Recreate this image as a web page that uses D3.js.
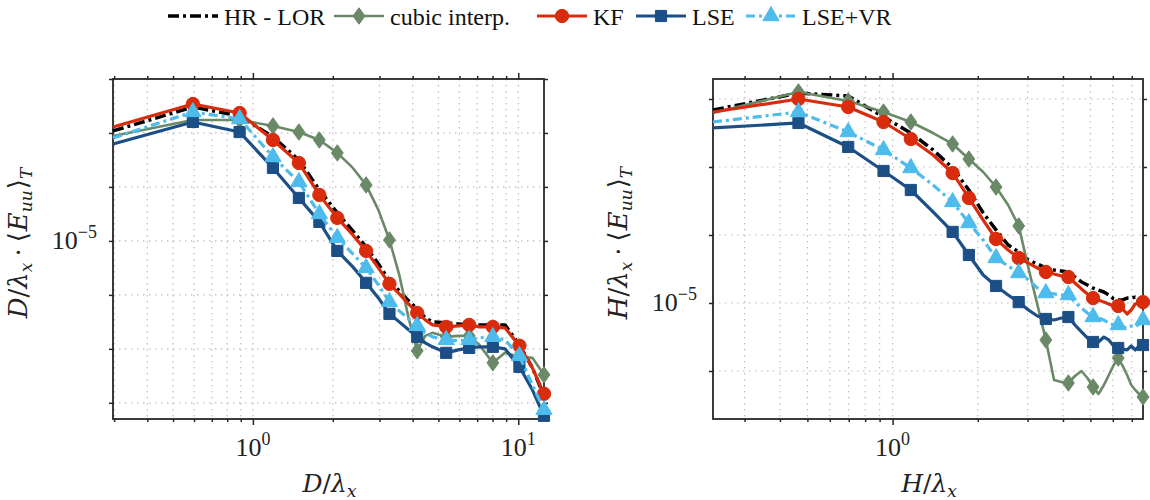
<!DOCTYPE html>
<html><head><meta charset="utf-8">
<script src="https://cdn.jsdelivr.net/npm/d3@7"></script>
<style>body{margin:0;background:#fff;} svg{display:block;}</style>
</head><body>
<svg id="c" width="1150" height="500"></svg>
<script>
// ---------------- data ----------------
const seriesNames = ["HR - LOR", "cubic interp.", "KF", "LSE", "LSE+VR"];

// left panel : D/lambda_x
const xLeft = [0.297,0.594,0.891,1.19,1.49,1.78,2.08,2.38,2.67,2.97,3.27,3.56,3.86,4.16,4.46,4.75,5.35,5.94,6.53,7.13,8.02,8.91,10.1,11.3,12.5];
const hrLeft = [1.09e-3,3.03e-3,2.07e-3,8.43e-4,3.16e-4,8.79e-5,3.30e-5,1.53e-5,7.74e-6,3.75e-6,1.82e-6,1.19e-6,7.74e-7,5.50e-7,3.75e-7,3.16e-7,3.03e-7,2.90e-7,2.78e-7,2.78e-7,2.78e-7,2.78e-7,1.19e-7,4.45e-8,1.35e-8];
const cubicLeft = [8.79e-4,1.74e-3,1.74e-3,1.35e-3,1.04e-3,7.41e-4,4.27e-4,2.25e-4,1.09e-4,3.75e-5,1.04e-5,2.35e-6,3.75e-7,9.18e-8,1.74e-7,1.98e-7,1.67e-7,1.74e-7,1.74e-7,1.19e-7,5.50e-8,8.43e-8,7.11e-8,6.81e-8,3.30e-8];
const kfLeft = [1.29e-3,3.44e-3,2.34e-3,7.41e-4,2.78e-4,7.11e-5,2.67e-5,1.29e-5,6.53e-6,3.16e-6,1.60e-6,1.04e-6,6.81e-7,4.64e-7,3.44e-7,2.78e-7,2.55e-7,2.67e-7,2.78e-7,2.55e-7,2.55e-7,2.45e-7,1.14e-7,4.45e-8,1.47e-8];
const lseLeft = [6.25e-4,1.60e-3,1.04e-3,2.25e-4,6.25e-5,2.25e-5,6.53e-6,3.30e-6,1.67e-6,8.79e-7,4.45e-7,3.16e-7,2.25e-7,1.67e-7,1.29e-7,1.09e-7,8.43e-8,9.58e-8,1.04e-7,1.09e-7,1.09e-7,1.00e-7,4.64e-8,1.74e-8,5.74e-9];
const lsevrLeft = [8.07e-4,2.45e-3,1.82e-3,3.60e-4,1.24e-4,3.16e-5,1.14e-5,5.74e-6,3.16e-6,1.53e-6,7.41e-7,5.06e-7,3.59e-7,2.67e-7,1.98e-7,1.67e-7,1.47e-7,1.41e-7,1.47e-7,1.60e-7,1.67e-7,1.47e-7,7.41e-8,2.15e-8,7.41e-9];
const markLeft = [1,2,3,4,5,6,8,10,13,16,18,20,22,24];

// right panel : H/lambda_x
const xRight = [0.232,0.465,0.697,0.929,1.16,1.39,1.63,1.86,2.09,2.32,2.56,2.79,3.02,3.25,3.48,3.72,3.95,4.18,4.41,4.65,4.88,5.11,5.34,5.58,5.81,6.04,6.27,6.50,6.74,6.97,7.20,7.43,7.67];
const hrRight = [6.89e-3,1.22e-2,1.11e-2,5.43e-3,3.16e-3,1.78e-3,9.66e-4,4.59e-4,2.11e-4,1.19e-4,7.13e-5,5.62e-5,4.29e-5,3.75e-5,3.27e-5,3.06e-5,2.96e-5,2.86e-5,2.41e-5,2.04e-5,1.84e-5,1.66e-5,1.55e-5,1.45e-5,1.31e-5,1.15e-5,1.11e-5,1.11e-5,1.18e-5,1.18e-5,1.22e-5,1.18e-5,1.18e-5];
const cubicRight = [6.22e-3,1.27e-2,9.35e-3,6.44e-3,4.59e-3,3.16e-3,2.18e-3,1.31e-3,8.44e-4,5.08e-4,2.76e-4,1.36e-4,3.27e-5,9.35e-6,2.86e-6,7.38e-7,6.89e-7,6.66e-7,8.44e-7,1.00e-6,7.89e-7,5.82e-7,4.59e-7,6.22e-7,8.73e-7,1.22e-6,1.55e-6,1.19e-6,8.73e-7,6.22e-7,5.26e-7,4.59e-7,4.15e-7];
const kfRight = [6.44e-3,1.00e-2,7.62e-3,4.59e-3,2.58e-3,1.50e-3,8.16e-4,3.50e-4,1.66e-4,8.73e-5,6.02e-5,4.59e-5,3.87e-5,3.27e-5,2.86e-5,2.67e-5,2.50e-5,2.41e-5,1.97e-5,1.61e-5,1.36e-5,1.18e-5,1.11e-5,1.03e-5,9.67e-6,9.03e-6,9.03e-6,8.16e-6,6.89e-6,7.89e-6,9.67e-6,1.00e-5,1.03e-5];
const lseRight = [3.75e-3,4.44e-3,1.97e-3,8.74e-4,4.59e-4,2.18e-4,1.11e-4,5.08e-5,2.58e-5,1.78e-5,1.31e-5,1.03e-5,7.89e-6,6.44e-6,5.82e-6,5.62e-6,6.02e-6,6.22e-6,4.75e-6,3.75e-6,3.06e-6,2.67e-6,2.67e-6,3.16e-6,2.86e-6,2.33e-6,2.18e-6,2.11e-6,2.04e-6,2.33e-6,2.04e-6,2.33e-6,2.41e-6];
const lsevrRight = [4.59e-3,6.44e-3,3.27e-3,1.78e-3,9.66e-4,5.43e-4,3.06e-4,1.50e-4,8.44e-5,4.59e-5,3.50e-5,2.76e-5,2.18e-5,1.66e-5,1.40e-5,1.36e-5,1.31e-5,1.31e-5,1.03e-5,8.44e-6,7.13e-6,6.22e-6,6.02e-6,5.62e-6,5.08e-6,4.75e-6,4.75e-6,4.44e-6,4.29e-6,4.59e-6,4.44e-6,4.91e-6,5.62e-6];
const markRight = [1,2,3,4,6,7,9,11,14,17,21,26,32];

// axis ticks
const xTickLabelsLeft = [1, 10];
const xTickLabelsRight = [1];
const yTickLabel = [1e-5];
const xMinorLeft = [0.3,0.4,0.5,0.6,0.7,0.8,0.9,1,2,3,4,5,6,7,8,9,10];
const xMinorRight = [0.3,0.4,0.5,0.6,0.7,0.8,0.9,1,2,3,4,5,6,7];
const yDecadesLeft = [1e-2,1e-3,1e-4,1e-5,1e-6,1e-7,1e-8];
const yDecadesRight = [1e-2,1e-3,1e-4,1e-5,1e-6];

// ---------------- styles ----------------
const diamond = { draw(ctx, size) { const h = Math.sqrt(size) * 0.72, w = h * 0.72;
  ctx.moveTo(0,-h); ctx.lineTo(w,0); ctx.lineTo(0,h); ctx.lineTo(-w,0); ctx.closePath(); } };
const styles = [
  {color:"#000000", width:3.5, dash:"11,4,3,4", symbol:null, size:0},
  {color:"#6a8967", width:2.6, dash:null, symbol:diamond, size:130},
  {color:"#d82c0d", width:3.2, dash:null, symbol:d3.symbolCircle, size:140},
  {color:"#1c4f85", width:3.2, dash:null, symbol:d3.symbolSquare, size:125},
  {color:"#4dbbec", width:3.2, dash:"9,4,3,4", symbol:d3.symbolTriangle, size:115}
];

const svg = d3.select("#c");
const FONT = "'Liberation Serif', 'Times New Roman', serif";
const MATHFONT = "'DejaVu Serif', 'Liberation Serif', serif";

const panels = [
  {x0:113, x1:544, xDomain:[0.297,12.5], yDomain:[Math.pow(10,-8.3),1e-2], xs:xLeft,
   ys:[hrLeft,cubicLeft,kfLeft,lseLeft,lsevrLeft], marks:markLeft, xMinor:xMinorLeft,
   xLab:xTickLabelsLeft, yDec:yDecadesLeft, v:"D"},
  {x0:713, x1:1143, xDomain:[0.232,7.67], yDomain:[Math.pow(10,-6.706),Math.pow(10,-1.706)], xs:xRight,
   ys:[hrRight,cubicRight,kfRight,lseRight,lsevrRight], marks:markRight, xMinor:xMinorRight,
   xLab:xTickLabelsRight, yDec:yDecadesRight, v:"H"}
];
const plotTop = 79, plotBottom = 419;

function mathLabel(sel, v, withE) {
  const sub = 17;
  sel.append("tspan").attr("font-style","italic").text(v);
  sel.append("tspan").text("/");
  sel.append("tspan").attr("font-style","italic").text("λ");
  sel.append("tspan").attr("font-style","italic").attr("font-size",sub).attr("dy",5).text("x");
  if (withE) {
    sel.append("tspan").attr("dy",-5).attr("dx",6).text("·");
    sel.append("tspan").attr("dx",6).text("⟨");
    sel.append("tspan").attr("font-style","italic").attr("dx",1).text("E");
    sel.append("tspan").attr("font-style","italic").attr("font-size",sub).attr("dy",5).text("uu");
    sel.append("tspan").attr("dy",-5).attr("dx",1).text("⟩");
    sel.append("tspan").attr("font-style","italic").attr("font-size",sub).attr("dy",5).text("T");
  }
}

panels.forEach(p => {
  const x = d3.scaleLog().domain(p.xDomain).range([p.x0, p.x1]);
  const y = d3.scaleLog().domain(p.yDomain).range([plotBottom, plotTop]);
  const g = svg.append("g");
  // grid
  g.append("g").selectAll("line").data(p.xMinor).join("line")
    .attr("x1", d=>x(d)).attr("x2", d=>x(d)).attr("y1", plotTop).attr("y2", plotBottom)
    .attr("stroke","#bdbdbd").attr("stroke-width",1.2).attr("stroke-dasharray","1.5,4.5");
  g.append("g").selectAll("line").data(p.yDec.filter(d => y(d) > plotTop + 2)).join("line")
    .attr("x1", p.x0).attr("x2", p.x1).attr("y1", d=>y(d)).attr("y2", d=>y(d))
    .attr("stroke","#bdbdbd").attr("stroke-width",1.2).attr("stroke-dasharray","1.5,4.5");

  // axes ticks (all four sides)
  const axStyle = s => { s.select(".domain").remove(); s.selectAll("line").attr("stroke","#262626").attr("stroke-width",1.5); s.selectAll("text").remove(); };
  const minorX = p.xMinor.filter(d => p.xLab.indexOf(d) < 0);
  g.append("g").attr("transform",`translate(0,${plotBottom})`).call(d3.axisBottom(x).tickValues(minorX).tickSize(3)).call(axStyle);
  g.append("g").attr("transform",`translate(0,${plotBottom})`).call(d3.axisBottom(x).tickValues(p.xLab).tickSize(6)).call(axStyle);
  g.append("g").attr("transform",`translate(0,${plotTop})`).call(d3.axisTop(x).tickValues(minorX).tickSize(3)).call(axStyle);
  g.append("g").attr("transform",`translate(0,${plotTop})`).call(d3.axisTop(x).tickValues(p.xLab).tickSize(6)).call(axStyle);
  g.append("g").attr("transform",`translate(${p.x0},0)`).call(d3.axisLeft(y).tickValues(p.yDec).tickSize(4)).call(axStyle);
  g.append("g").attr("transform",`translate(${p.x1},0)`).call(d3.axisRight(y).tickValues(p.yDec).tickSize(4)).call(axStyle);

  // box
  g.append("rect").attr("x",p.x0).attr("y",plotTop).attr("width",p.x1-p.x0).attr("height",plotBottom-plotTop)
    .attr("fill","none").attr("stroke","#262626").attr("stroke-width",1.8);

  // tick labels
  p.xLab.forEach(v => {
    const t = g.append("text").attr("x", x(v)).attr("y", 456).attr("text-anchor","middle")
      .attr("font-family",FONT).attr("font-size",26).attr("fill","#222");
    t.append("tspan").text("10");
    t.append("tspan").attr("font-size",18).attr("dy",-11).text(String(Math.round(Math.log10(v))));
  });
  yTickLabel.forEach(v => {
    const t = g.append("text").attr("x", p.x0 - 16).attr("y", y(v) + 8).attr("text-anchor","end")
      .attr("font-family",FONT).attr("font-size",26).attr("fill","#222");
    t.append("tspan").text("10");
    t.append("tspan").attr("font-size",18).attr("dy",-11).text("−" + Math.abs(Math.round(Math.log10(v))));
  });

  // axis labels
  const cx = (p.x0 + p.x1) / 2 + 1;
  const xl = g.append("text").attr("x", cx).attr("y", 492).attr("text-anchor","middle")
    .attr("font-family",MATHFONT).attr("font-size",25).attr("fill","#222");
  mathLabel(xl, p.v, false);
  const yl = g.append("text").attr("transform",`translate(${p.x0 - 86},${243}) rotate(-90)`)
    .attr("text-anchor","middle").attr("font-family",MATHFONT).attr("font-size",26).attr("fill","#222");
  mathLabel(yl, p.v, true);

  // series
  p.ys.forEach((ys, si) => {
    const st = styles[si];
    const pts = p.xs.map((xv,i) => [xv, ys[i]]);
    const line = d3.line().x(d=>x(d[0])).y(d=>y(d[1]));
    g.append("path").attr("d", line(pts)).attr("fill","none").attr("stroke",st.color)
      .attr("stroke-width",st.width).attr("stroke-linejoin","round")
      .attr("stroke-dasharray", st.dash);
    if (st.symbol) {
      const sym = d3.symbol().type(st.symbol).size(st.size);
      g.append("g").selectAll("path").data(p.marks.map(i => pts[i])).join("path")
        .attr("transform", d=>`translate(${x(d[0])},${y(d[1])})`).attr("d", sym())
        .attr("fill", st.color).attr("stroke", st.color).attr("stroke-width",1);
    }
  });
});

// legend
const legX = [168, 334, 537, 636, 746];
const leg = svg.append("g");
seriesNames.forEach((name, i) => {
  const st = styles[i], lx = legX[i], ly = 16;
  leg.append("line").attr("x1", lx).attr("x2", lx + 50).attr("y1", ly).attr("y2", ly)
    .attr("stroke", st.color).attr("stroke-width", st.width).attr("stroke-dasharray", st.dash);
  if (st.symbol) leg.append("path").attr("transform",`translate(${lx+25},${ly})`)
    .attr("d", d3.symbol().type(st.symbol).size(st.size)()).attr("fill", st.color).attr("stroke", st.color);
  leg.append("text").attr("x", lx + 56).attr("y", 25).attr("font-family", FONT).attr("font-size", 24)
    .attr("fill","#111").text(name);
});
</script>
</body></html>
